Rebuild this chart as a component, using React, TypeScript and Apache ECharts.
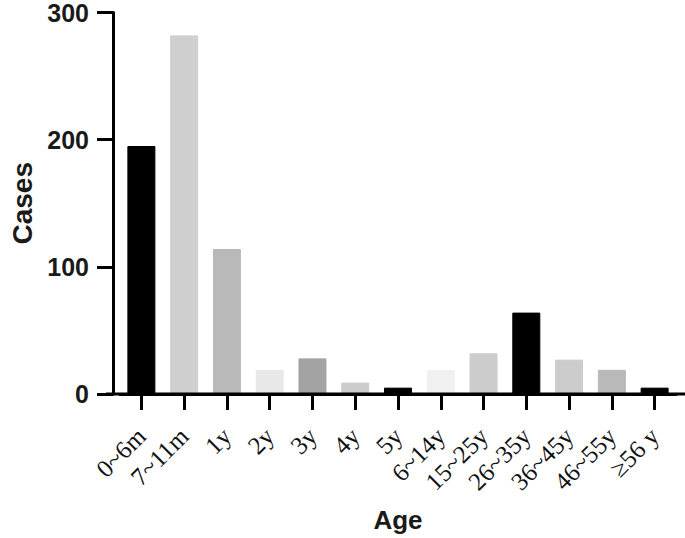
import React, { useEffect, useRef } from "react";
import * as echarts from "echarts";

const categories = ["0~6m", "7~11m", "1y", "2y", "3y", "4y", "5y", "6~14y", "15~25y", "26~35y", "36~45y", "46~55y", "≥56 y"];
const cases = [195, 282, 114, 19, 28, 9, 5, 19, 32, 64, 27, 19, 5];
const barColors = ["#000000", "#cfcfcf", "#b9b9b9", "#e8e8e8", "#a3a3a3", "#cccccc", "#000000", "#f0f0f0", "#cccccc", "#000000", "#cccccc", "#b9b9b9", "#000000"];
const yTicks = [0, 100, 200, 300];

export default function App() {
  const ref = useRef<HTMLDivElement>(null);
  useEffect(() => {
    if (!ref.current) return;
    const chart = echarts.init(ref.current, undefined, { renderer: "svg" });
    chart.setOption({
      animation: false,
      backgroundColor: "#ffffff",
      grid: { left: 114, right: 9, top: 11, bottom: 144, containLabel: false },
      xAxis: {
        type: "category",
        data: categories,
        name: "Age",
        nameLocation: "middle",
        nameGap: 113,
        nameTextStyle: { fontFamily: "Liberation Sans, Arial", fontWeight: "bold", fontSize: 26, color: "#1a1a1a" },
        axisLine: { show: true, lineStyle: { color: "#000", width: 3 } },
        axisTick: { show: true, alignWithLabel: true, length: 16, lineStyle: { color: "#000", width: 3 } },
        axisLabel: { rotate: 45, margin: 38, fontFamily: "Liberation Serif, Times New Roman, serif", fontSize: 25, color: "#111", interval: 0 },
      },
      yAxis: {
        type: "value",
        min: yTicks[0],
        max: yTicks[yTicks.length - 1],
        interval: 100,
        offset: 7,
        name: "Cases",
        nameLocation: "middle",
        nameGap: 77,
        nameTextStyle: { fontFamily: "Liberation Sans, Arial", fontWeight: "bold", fontSize: 28, color: "#1a1a1a" },
        splitLine: { show: false },
        axisLine: { show: true, lineStyle: { color: "#000", width: 3 } },
        axisTick: { show: true, length: 16, lineStyle: { color: "#000", width: 3 } },
        axisLabel: { margin: 24, fontFamily: "Liberation Sans, Arial", fontWeight: "bold", fontSize: 25, lineHeight: 20, color: "#1a1a1a" },
      },
      graphic: [
        { type: "line", shape: { x1: 106, y1: 394, x2: 685, y2: 394 }, style: { stroke: "#000", lineWidth: 3 }, z: 10 },
      ],
      series: [
        {
          type: "bar",
          barWidth: 28,
          data: cases.map((v, i) => ({
            value: v,
            itemStyle: { color: barColors[i], borderColor: barColors[i], borderWidth: 1 },
          })),
        },
      ],
    });
    return () => chart.dispose();
  }, []);
  return <div ref={ref} style={{ position: "fixed", left: 0, top: 0, width: 685, height: 538 }} />;
}
